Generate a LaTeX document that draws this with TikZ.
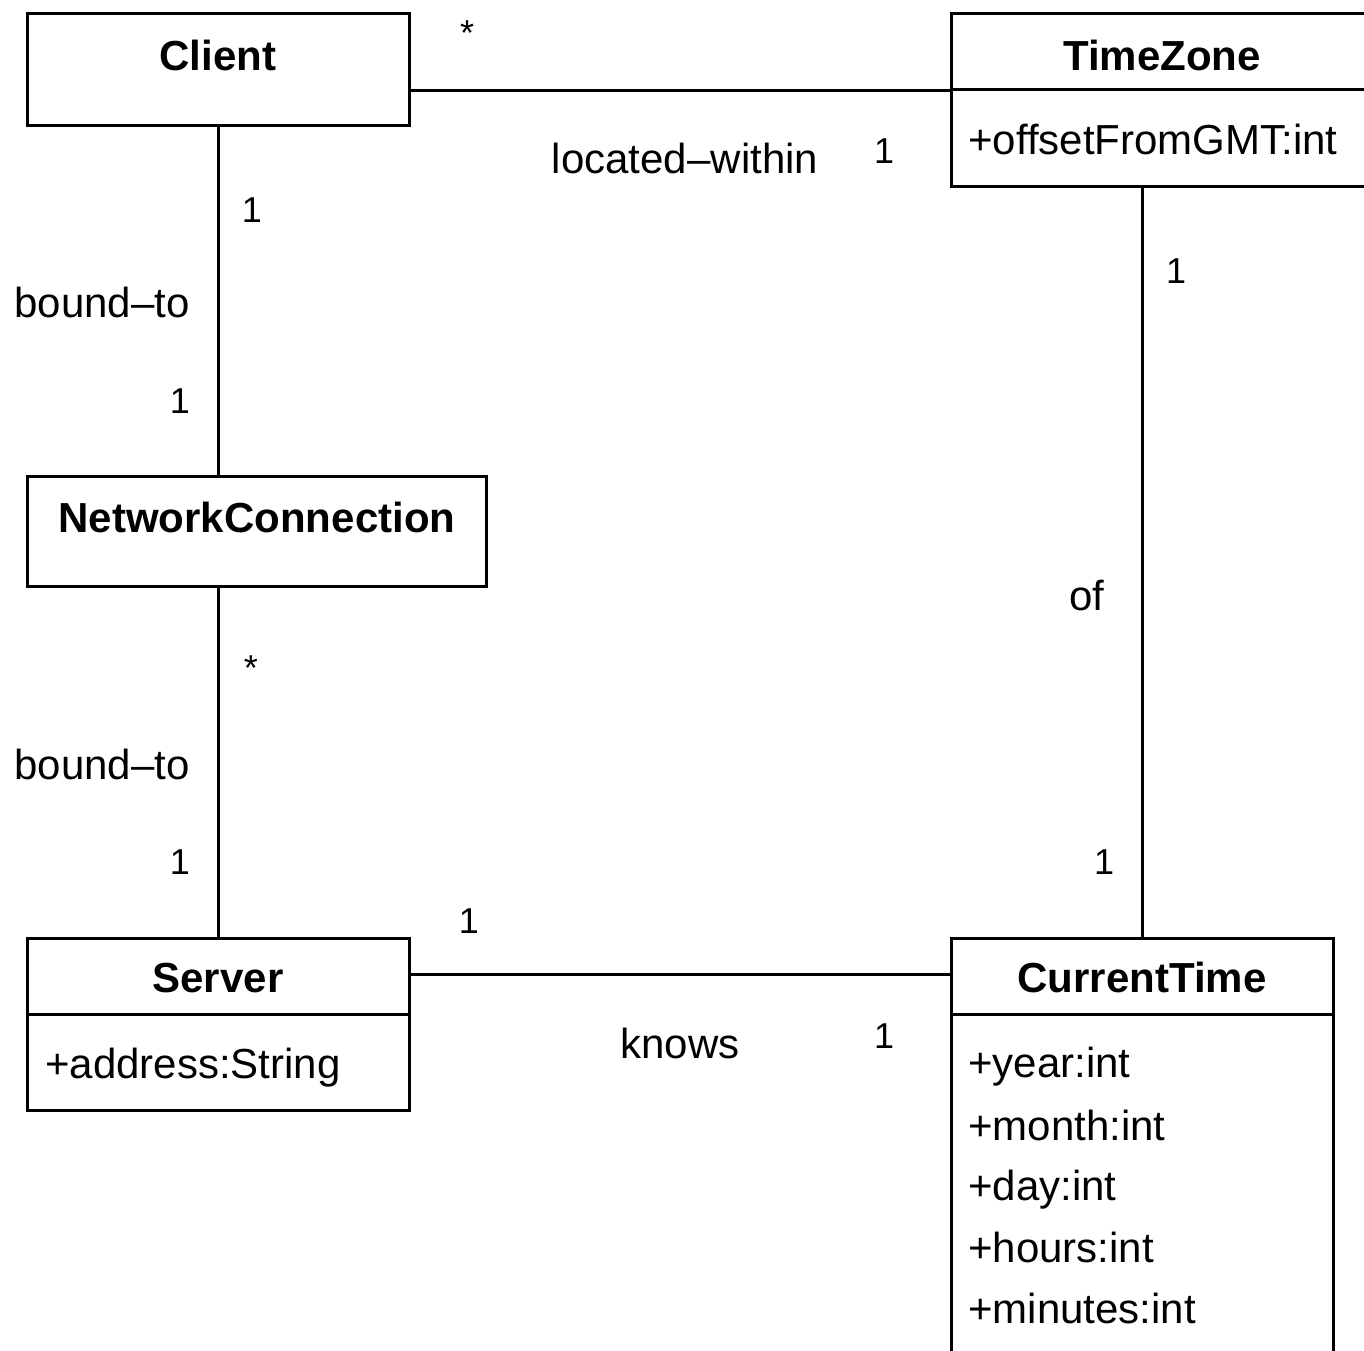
\documentclass[tikz,border=0pt]{standalone}
\usepackage{fontspec}
\setmainfont{Liberation Sans}
\begin{document}
\begin{tikzpicture}[x=1pt,y=-1pt,
  box/.style={draw, line width=2.6pt, inner sep=0pt, anchor=north west},
  ttl/.style={font=\fontsize{42}{50}\selectfont\bfseries, anchor=base, inner sep=0pt},
  attr/.style={font=\fontsize{42}{50}\selectfont, anchor=base west, inner sep=0pt},
  lab/.style={font=\fontsize{42}{50}\selectfont, anchor=base, inner sep=0pt},
  mult/.style={font=\fontsize{36}{42}\selectfont, anchor=base, inner sep=0pt},
  conn/.style={line width=2.6pt}]
\useasboundingbox (0,0) rectangle (1364,1350);
\clip (0,0) rectangle (1364,1350);
% class boxes
\node[box, minimum width=382pt, minimum height=112pt] (client) at (26,12) {};
\node[box, minimum width=422pt, minimum height=76pt] (tztitle) at (950,12) {};
\node[box, minimum width=422pt, minimum height=97pt] (tzattr) at (950,88) {};
\node[box, minimum width=459pt, minimum height=110pt] (netconn) at (26,475) {};
\node[box, minimum width=382pt, minimum height=76pt] (servertitle) at (26,937) {};
\node[box, minimum width=382pt, minimum height=96pt] (serverattr) at (26,1013) {};
\node[box, minimum width=382pt, minimum height=76pt] (curtitle) at (950,937) {};
\node[box, minimum width=382pt, minimum height=400pt] (curattr) at (950,1013) {};
% texts
\node[ttl] (clientT) at (218,70) {Client};
\node[ttl] (tzT) at (1162,70) {TimeZone};
\node[attr] (tzA) at (968,154) {+offsetFromGMT:int};
\node[ttl] (netT) at (257,532) {NetworkConnection};
\node[ttl] (serverT) at (218,992) {Server};
\node[attr] (serverA) at (45,1078) {+address:String};
\node[ttl] (curT) at (1142,992) {CurrentTime};
\node[attr] (curA1) at (968,1077) {+year:int};
\node[attr] (curA2) at (968,1140) {+month:int};
\node[attr] (curA3) at (968,1200) {+day:int};
\node[attr] (curA4) at (968,1262) {+hours:int};
\node[attr] (curA5) at (968,1323) {+minutes:int};
% connectors
\draw[conn] (client.east |- tztitle.south) -- (tztitle.south west);
\draw[conn] (client.south) -- (client.south |- netconn.north);
\draw[conn] (client.south |- netconn.south) -- (servertitle.north);
\draw[conn] ([yshift=2pt]servertitle.east) -- ([yshift=2pt]curtitle.west);
\draw[conn] (curtitle.north) -- (curtitle.north |- tzattr.south);
% labels
\node[mult] (m1) at (467,45) {*};
\node[lab] (l1) at (685,173) {located–within};
\node[mult] (m2) at (884,163) {1};
\node[mult] (m3) at (252,222) {1};
\node[lab] (l2) at (102,317) {bound–to};
\node[mult] (m4) at (180,413) {1};
\node[mult] (m5) at (251,680) {*};
\node[lab] (l3) at (102,779) {bound–to};
\node[mult] (m6) at (180,874) {1};
\node[mult] (m7) at (469,933) {1};
\node[lab] (l4) at (680,1058) {knows};
\node[mult] (m8) at (884,1048) {1};
\node[mult] (m9) at (1176,283) {1};
\node[lab] (l5) at (1087,610) {of};
\node[mult] (m10) at (1104,874) {1};
\end{tikzpicture}
\end{document}
